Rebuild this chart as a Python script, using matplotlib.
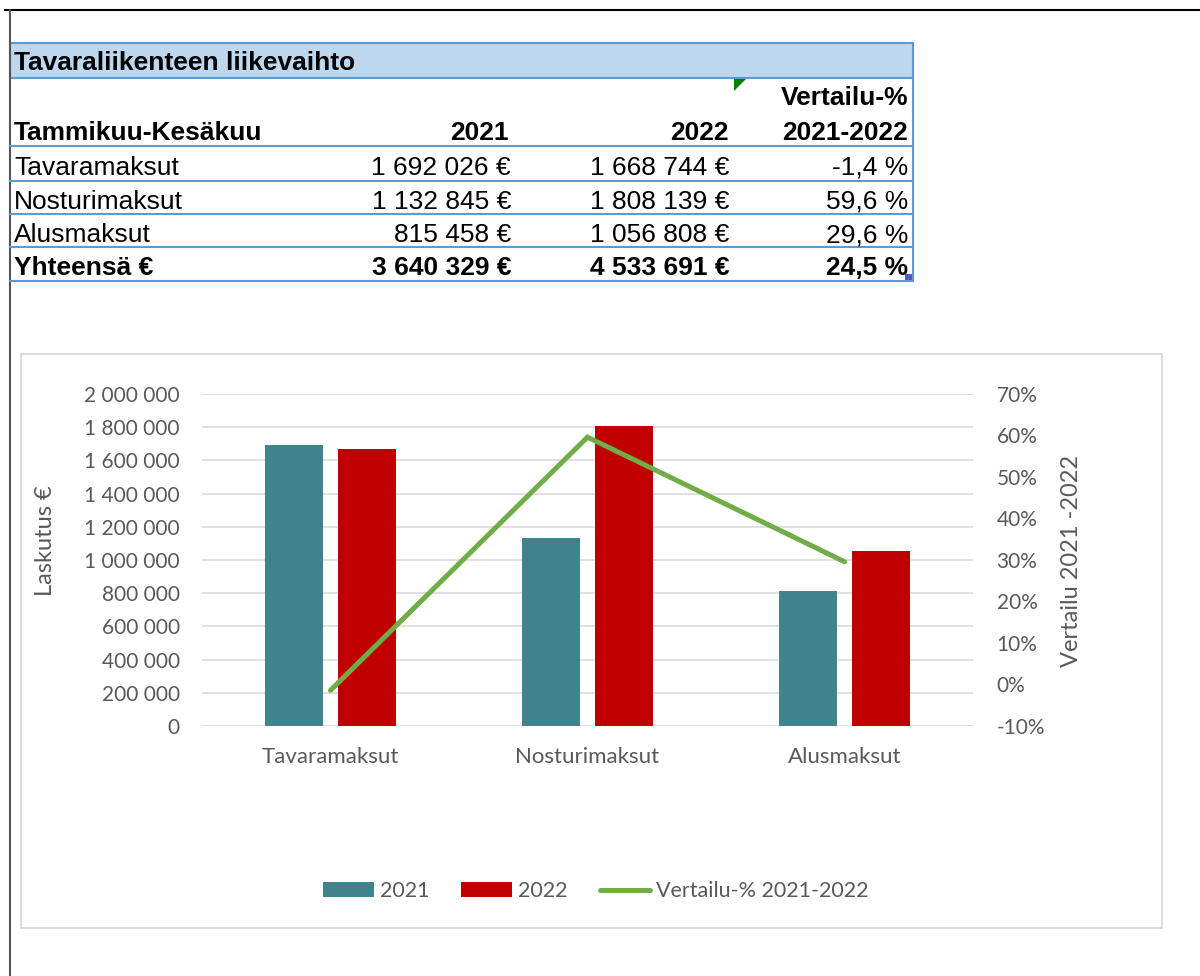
import matplotlib
matplotlib.use("Agg")
import matplotlib.pyplot as plt
from matplotlib.patches import Rectangle, Polygon, Patch
from matplotlib.lines import Line2D
from matplotlib.ticker import FuncFormatter
import numpy as np

# Data
categories = ['Tavaramaksut', 'Nosturimaksut', 'Alusmaksut']
values_2021 = [1692026, 1132845, 815458]
values_2022 = [1668744, 1808139, 1056808]
change_pct = [-1.4, 59.6, 29.6]
total_2021 = 3640329
total_2022 = 4533691
total_pct = 24.5

table_title = 'Tavaraliikenteen liikevaihto'
period_label = 'Tammikuu-Kesäkuu'
total_label = 'Yhteensä €'
years = ['2021', '2022']
compare_head = ['Vertailu-%', '2021-2022']

W, H = 1200, 976
fig = plt.figure(figsize=(W / 100, H / 100), dpi=100)


def px(x, y):
    return x / W, 1 - y / H


def hline(y, x0, x1, color, lw):
    fig.add_artist(Line2D([x0 / W, x1 / W], [1 - y / H, 1 - y / H],
                          transform=fig.transFigure, color=color, lw=lw))


def vline(x, y0, y1, color, lw):
    fig.add_artist(Line2D([x / W, x / W], [1 - y0 / H, 1 - y1 / H],
                          transform=fig.transFigure, color=color, lw=lw))


def money(v):
    return f"{v:,}".replace(",", " ") + " €"


def pct(p):
    return f"{p:.1f}".replace(".", ",") + " %"


# ---- sheet borders
hline(10, 5, 1200, 'black', 1.5)
vline(10, 10, 976, '#555555', 1.5)

# ---- table
blue = '#5B9BD5'
tfont = 'Liberation Sans'
tsize = 19
fig.add_artist(Rectangle(px(10, 78), 903 / W, 35 / H, transform=fig.transFigure,
                         facecolor='#BDD7EE', edgecolor=blue, lw=1.5))
fig.text(*px(14, 70), table_title, fontfamily=tfont, fontsize=tsize,
         fontweight='bold', ha='left', va='baseline')
for y in [146, 181, 214, 247, 281]:
    hline(y, 10, 913, blue, 1.5)
vline(913, 78, 281, blue, 1.5)

col_x = [14, 511, 729, 908]
fig.text(*px(col_x[0], 140), period_label, fontfamily=tfont, fontsize=tsize,
         fontweight='bold', ha='left', va='baseline')
fig.text(*px(col_x[1] - 2, 140), years[0], fontfamily=tfont, fontsize=tsize,
         fontweight='bold', ha='right', va='baseline')
fig.text(*px(col_x[2], 140), years[1], fontfamily=tfont, fontsize=tsize,
         fontweight='bold', ha='right', va='baseline')
fig.text(*px(col_x[3], 105), compare_head[0], fontfamily=tfont, fontsize=tsize,
         fontweight='bold', ha='right', va='baseline')
fig.text(*px(col_x[3], 140), compare_head[1], fontfamily=tfont, fontsize=tsize,
         fontweight='bold', ha='right', va='baseline')

row_base = [175, 209, 242, 275]
rows = list(zip(categories, values_2021, values_2022, change_pct))
rows.append((total_label, total_2021, total_2022, total_pct))
for i, (lab, a, b, p) in enumerate(rows):
    w = 'bold' if i == len(rows) - 1 else 'normal'
    y = row_base[i]
    fig.text(*px(col_x[0], y), lab, fontfamily=tfont, fontsize=tsize, fontweight=w,
             ha='left', va='baseline')
    fig.text(*px(col_x[1], y), money(a), fontfamily=tfont, fontsize=tsize, fontweight=w,
             ha='right', va='baseline')
    fig.text(*px(col_x[2], y), money(b), fontfamily=tfont, fontsize=tsize, fontweight=w,
             ha='right', va='baseline')
    fig.text(*px(col_x[3], y), pct(p), fontfamily=tfont, fontsize=tsize, fontweight=w,
             ha='right', va='baseline')

# comment marker and selection handle
fig.add_artist(Polygon([px(734, 79), px(746, 79), px(734, 91)], closed=True,
                       transform=fig.transFigure, facecolor='#008000', edgecolor='none'))
fig.add_artist(Rectangle(px(905, 282), 8 / W, 8 / H, transform=fig.transFigure,
                         facecolor='#4A5BB8', edgecolor='none'))

# ---- chart
cfont = 'Lato'
gray = '#595959'
teal = '#40838D'
red = '#C00000'
green = '#70AD47'

fig.add_artist(Rectangle(px(21, 928), (1162 - 21) / W, (928 - 354) / H,
                         transform=fig.transFigure, facecolor='none',
                         edgecolor='#D9D9D9', lw=1.3))

ax = fig.add_axes([202 / W, 1 - 726 / H, (973 - 202) / W, (726 - 394) / H])
x = np.arange(len(categories))
bw = 0.222
off = 0.142
ax.bar(x - off, values_2021, bw, color=teal, zorder=2)
ax.bar(x + off, values_2022, bw, color=red, zorder=2)
ax.set_xlim(-0.5, 2.5)
ax.set_ylim(0, 2000000)
ax.set_yticks(np.arange(0, 2000001, 200000))
ax.yaxis.set_major_formatter(FuncFormatter(lambda v, _: f"{int(v):,}".replace(",", " ")))
ax.set_xticks(x)
ax.set_xticklabels(categories)
ax.yaxis.grid(True, color='#D9D9D9', lw=1.1, zorder=0)
ax.set_axisbelow(True)
for s in ax.spines.values():
    s.set_visible(False)
ax.tick_params(axis='both', length=0, labelcolor=gray)
ax.tick_params(axis='y', pad=16, labelsize=15)
ax.tick_params(axis='x', pad=15, labelsize=16)
for t in ax.get_xticklabels() + ax.get_yticklabels():
    t.set_fontfamily(cfont)

ax2 = ax.twinx()
ax2.plot(x, [p / 100 for p in change_pct], color=green, lw=3.6,
         solid_capstyle='round', solid_joinstyle='miter')
ax2.set_ylim(-0.1, 0.7)
ax2.set_yticks(np.arange(-0.1, 0.71, 0.1))
ax2.yaxis.set_major_formatter(FuncFormatter(lambda v, _: f"{round(v * 100):d}%"))
for s in ax2.spines.values():
    s.set_visible(False)
ax2.tick_params(axis='y', length=0, labelcolor=gray, labelsize=15, pad=17)
for t in ax2.get_yticklabels():
    t.set_fontfamily(cfont)

fig.text(*px(45, 541), 'Laskutus €', rotation=90, ha='center', va='center',
         fontfamily=cfont, fontsize=17, color=gray)
fig.text(*px(1071, 561), 'Vertailu 2021 -2022', rotation=90, ha='center', va='center',
         fontfamily=cfont, fontsize=17, color=gray)

handles = [Patch(facecolor=teal), Patch(facecolor=red), Line2D([], [], color=green, lw=3.6,
                                                               solid_capstyle='round')]
leg = fig.legend(handles, ['2021', '2022', 'Vertailu-% 2021-2022'], loc='center',
                 bbox_to_anchor=px(596, 891), ncol=3, frameon=False,
                 prop={'family': cfont, 'size': 15.5}, labelcolor=gray,
                 handlelength=2.35, handleheight=0.67, handletextpad=0.28,
                 columnspacing=1.5)

fig.savefig('out.png', dpi=100)
